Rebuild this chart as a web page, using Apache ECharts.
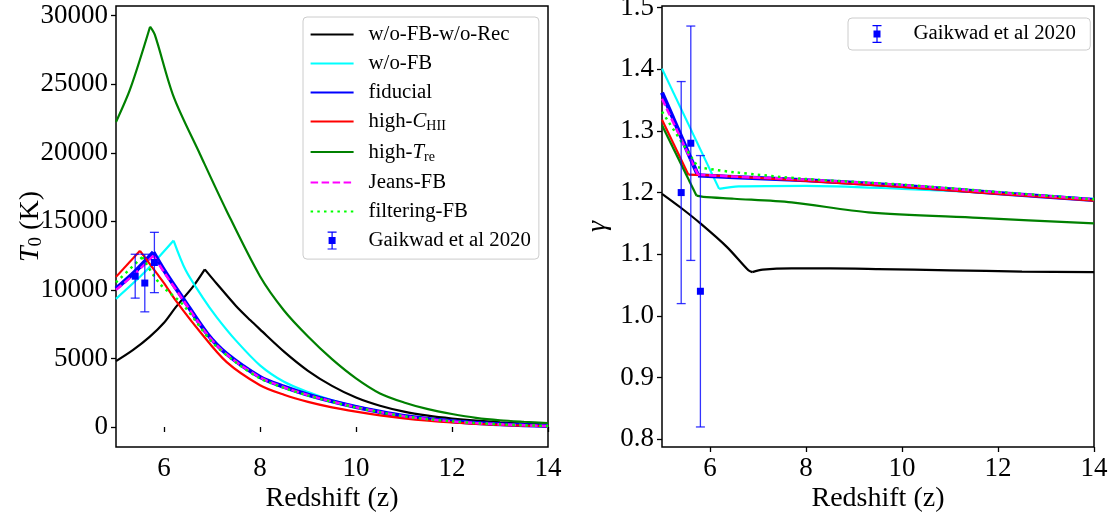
<!DOCTYPE html>
<html><head><meta charset="utf-8">
<script src="https://cdn.jsdelivr.net/npm/echarts@6/dist/echarts.min.js"></script>
<style>html,body{margin:0;padding:0;background:#fff}#c{width:1111px;height:514px}</style>
</head><body><div id="c"></div>
<script>
// ---------- Left panel: T0 (K) vs redshift ----------
const zBlack = [5, 5.35, 5.7, 6, 6.25, 6.6, 6.85, 7.1, 7.5, 7.8, 8, 8.5, 9, 9.5, 10, 10.5, 11, 11.5, 12, 12.5, 13, 13.5, 14];
const tBlack = [4800, 5600, 6570, 7600, 8760, 10220, 11500, 10450, 8830, 7780, 7120, 5500, 4100, 3000, 2150, 1550, 1120, 830, 620, 460, 340, 250, 180];
const zCyan = [5, 5.6, 6.2, 6.45, 6.8, 7.1, 7.5, 8, 8.5, 9, 9.5, 10, 10.5, 11, 11.5, 12, 12.5, 13, 13.5, 14];
const tCyan = [9350, 11300, 13600, 11450, 9480, 8000, 6300, 4500, 3300, 2550, 1950, 1500, 1130, 820, 600, 440, 310, 210, 140, 90];
const zFid = [5, 5.4, 5.78, 6, 6.4, 6.9, 7.3, 8, 8.5, 9, 9.5, 10, 10.5, 11, 11.5, 12, 12.5, 13, 13.5, 14];
const tFid = [10100, 11350, 12750, 11450, 9350, 6800, 5350, 3650, 2930, 2350, 1880, 1460, 1100, 790, 580, 420, 290, 200, 130, 80];
const zRed = [5, 5.5, 5.85, 6, 6.25, 6.75, 7.3, 8, 8.5, 9, 9.5, 10, 10.5, 11, 11.5, 12, 12.5, 13, 13.5, 14];
const tRed = [10950, 12850, 11200, 10500, 9200, 6950, 4750, 3050, 2350, 1830, 1430, 1120, 850, 630, 460, 330, 230, 150, 95, 55];
const zGreen = [5, 5.3, 5.71, 5.81, 6.2, 6.75, 7.3, 8, 8.5, 9, 9.5, 10, 10.5, 11, 11.5, 12, 12.5, 13, 13.5, 14];
const tGreen = [22250, 24700, 29200, 28600, 24100, 19900, 15800, 11000, 8500, 6600, 4950, 3550, 2450, 1790, 1300, 950, 670, 490, 380, 290];
const zJeans = [5, 5.4, 5.78, 6, 6.4, 6.9, 7.3, 8, 8.5, 9, 9.5, 10, 10.5, 11, 11.5, 12, 12.5, 13, 13.5, 14];
const tJeans = [10000, 11200, 12500, 11300, 9250, 6750, 5300, 3620, 2900, 2330, 1860, 1445, 1090, 785, 575, 415, 288, 198, 128, 78];
const zFilt = [5, 5.55, 5.9, 6.4, 7, 7.5, 8, 8.5, 9, 9.5, 10, 10.5, 11, 11.5, 12, 12.5, 13, 13.5, 14];
const tFilt = [10550, 12400, 10500, 8900, 6200, 4700, 3550, 2850, 2300, 1840, 1430, 1080, 780, 570, 410, 285, 195, 125, 75];

// ---------- Right panel: gamma vs redshift ----------
const zgBlack = [5, 5.4, 5.8, 6.35, 6.8, 6.88, 7.1, 7.7, 8.5, 9.5, 11, 12.5, 14];
const gBlack = [1.198, 1.175, 1.150, 1.112, 1.074, 1.071, 1.075, 1.077, 1.077, 1.076, 1.074, 1.072, 1.071];
const zgCyan = [5, 6.19, 6.6, 8, 10, 12, 14];
const gCyan = [1.401, 1.206, 1.210, 1.211, 1.206, 1.199, 1.190];
const zgFid = [5, 5.75, 6.5, 8, 10, 12, 14];
const gFid = [1.362, 1.228, 1.225, 1.220, 1.211, 1.199, 1.188];
const zgRed = [5, 5.55, 6.5, 8, 10, 12, 14];
const gRed = [1.318, 1.229, 1.226, 1.219, 1.209, 1.198, 1.187];
const zgGreen = [5, 5.72, 5.86, 6.5, 7.7, 9.3, 11.6, 14];
const gGreen = [1.309, 1.195, 1.193, 1.190, 1.184, 1.168, 1.159, 1.150];
const zgJeans = [5, 5.75, 6.5, 8, 10, 12, 14];
const gJeans = [1.352, 1.229, 1.226, 1.221, 1.212, 1.200, 1.189];
const zgFilt = [5, 5.75, 6.5, 8, 10, 12, 14];
const gFilt = [1.331, 1.241, 1.233, 1.222, 1.213, 1.201, 1.189];

// ---------- Gaikwad et al 2020 observations ----------
const zObs = [5.4, 5.6, 5.8];
const tObs = [11000, 10500, 12000];
const tObsErr = [1600, 2100, 2200];
const gObs = [1.20, 1.28, 1.04];
const gObsErr = [0.18, 0.19, 0.22];

// ---------- Ticks ----------
const xTicks = [6, 8, 10, 12, 14];
const tTicks = [0, 5000, 10000, 15000, 20000, 25000, 30000];
const gTicks = [0.8, 0.9, 1.0, 1.1, 1.2, 1.3, 1.4, 1.5];

const FONT = '"Liberation Serif", "DejaVu Serif", serif';
const LFS = 20.8;
const pairs = (xs, ys) => xs.map((x, i) => [x, ys[i]]);
const errData = (xs, ys, es) => xs.map((x, i) => [x, ys[i], ys[i] - es[i], ys[i] + es[i]]);

const names = {
  black: 'w/o-FB-w/o-Rec', cyan: 'w/o-FB', fid: 'fiducial', red: 'high-C_HII',
  green: 'high-T_re', jeans: 'Jeans-FB', filt: 'filtering-FB', obs: 'Gaikwad et al 2020'
};
const legendLabel = {
  'high-C_HII': '{n|high-}{i|C}{sub|HII}',
  'high-T_re': '{n|high-}{i|T}{sub|re}'
};
const styles = {
  black: {color: '#000000', width: 2.2, type: 'solid'},
  cyan: {color: '#00ffff', width: 2.2, type: 'solid'},
  fid: {color: '#0000ff', width: 4.2, type: 'solid'},
  red: {color: '#ff0000', width: 2.2, type: 'solid'},
  green: {color: '#008000', width: 2.2, type: 'solid'},
  jeans: {color: '#ff00ff', width: 2.5, type: [7.5, 3.5]},
  filt: {color: '#00ff00', width: 2.5, type: [2.5, 4.2]}
};

// a curve is drawn as two smoothed pieces joined at its kink (index k)
function lineSeries(key, xs, ys, idx, z, k) {
  const s = styles[key];
  const all = pairs(xs, ys);
  const base = {
    type: 'line', name: names[key], xAxisIndex: idx, yAxisIndex: idx,
    showSymbol: false, symbol: 'none', smooth: 0.3,
    lineStyle: {color: s.color, width: s.width, type: s.type, cap: 'butt'},
    itemStyle: {color: s.color}, z: z, animation: false, emphasis: {disabled: true}
  };
  return [
    Object.assign({}, base, {data: all.slice(0, k + 1)}),
    Object.assign({}, base, {data: all.slice(k)})
  ];
}

function errRender(params, api) {
  const x = api.value(0), y = api.value(1), lo = api.value(2), hi = api.value(3);
  const c = api.coord([x, y]), a = api.coord([x, lo]), b = api.coord([x, hi]);
  const cap = 4.5, s = 3.5;
  const ls = {stroke: '#0000ff', lineWidth: 1.3, opacity: 0.8};
  return {type: 'group', children: [
    {type: 'line', shape: {x1: c[0], y1: a[1], x2: c[0], y2: b[1]}, style: ls},
    {type: 'line', shape: {x1: c[0] - cap, y1: a[1], x2: c[0] + cap, y2: a[1]}, style: ls},
    {type: 'line', shape: {x1: c[0] - cap, y1: b[1], x2: c[0] + cap, y2: b[1]}, style: ls},
    {type: 'rect', shape: {x: c[0] - s, y: c[1] - s, width: 2 * s, height: 2 * s}, style: {fill: '#0000ff'}}
  ]};
}
function errSeries(data, idx) {
  return {
    type: 'custom', name: names.obs, xAxisIndex: idx, yAxisIndex: idx,
    coordinateSystem: 'cartesian2d', renderItem: errRender, data: data,
    encode: {x: 0, y: [1, 2, 3]}, itemStyle: {color: '#0000ff'}, z: 20, animation: false
  };
}

const obsIcon = 'path://M0,8.99 L0.01,8.99 L0.01,9.01 Z M43,8.99 L42.99,8.99 L42.99,9.01 Z ' +
  'M17,0 L26,0 L26,1.2 L22.1,1.2 L22.1,5.5 L25,5.5 L25,12.5 L22.1,12.5 L22.1,16.8 L26,16.8 L26,18 L17,18 L17,16.8 L20.9,16.8 L20.9,12.5 L18,12.5 L18,5.5 L20.9,5.5 L20.9,1.2 L17,1.2 Z';
const obsLegendItem = {name: names.obs, icon: obsIcon, itemStyle: {opacity: 1, color: '#0000ff'}};

const richLegend = {
  n: {fontFamily: FONT, fontSize: LFS, color: '#000', lineHeight: 24},
  i: {fontFamily: FONT, fontSize: LFS, fontStyle: 'italic', color: '#000', lineHeight: 24},
  sub: {fontFamily: FONT, fontSize: 14, color: '#000', lineHeight: 24, verticalAlign: 'bottom'}
};
function legendBase(extra) {
  return Object.assign({
    orient: 'vertical', itemWidth: 43, itemHeight: 18, itemGap: 8.0,
    borderColor: '#cccccc', borderWidth: 1, borderRadius: 4, backgroundColor: '#ffffff',
    symbolKeepAspect: true, selectedMode: false,
    itemStyle: {opacity: 0},
    textStyle: {fontFamily: FONT, fontSize: LFS, color: '#000', padding: [0, 0, 0, 10], rich: richLegend},
    formatter: name => legendLabel[name] || ('{n|' + name + '}')
  }, extra);
}

function xAxisCfg(idx) {
  return {
    type: 'value', gridIndex: idx, min: 5, max: 14,
    name: 'Redshift (z)', nameLocation: 'middle', nameGap: 38, nameMoveOverlap: false,
    nameTextStyle: {fontFamily: FONT, fontSize: 28, color: '#000'},
    axisLine: {show: false},
    axisTick: {show: true, inside: false, length: 5, lineStyle: {color: '#000', width: 1.3}, customValues: xTicks},
    axisLabel: {show: true, margin: 8, fontFamily: FONT, fontSize: 27, color: '#000', customValues: xTicks,
      formatter: v => String(v)},
    splitLine: {show: false}
  };
}

const option = {
  backgroundColor: '#ffffff',
  animation: false,
  grid: [
    {left: 116, top: 6, width: 432, height: 441, show: true, borderColor: '#000', borderWidth: 1.5, backgroundColor: 'transparent', containLabel: false, outerBoundsMode: 'none'},
    {left: 662, top: 6, width: 432, height: 441, show: true, borderColor: '#000', borderWidth: 1.5, backgroundColor: 'transparent', containLabel: false, outerBoundsMode: 'none'}
  ],
  xAxis: [xAxisCfg(0), xAxisCfg(1)],
  yAxis: [
    {
      type: 'value', gridIndex: 0, min: -1460, max: 30710,
      name: '{i|T}{sub|0}{n| (K)}', nameLocation: 'middle', nameGap: 70, nameRotate: 90, nameMoveOverlap: false,
      nameTextStyle: {fontFamily: FONT, fontSize: 28, color: '#000', rich: {
        n: {fontFamily: FONT, fontSize: 28, color: '#000', lineHeight: 30},
        i: {fontFamily: FONT, fontSize: 28, fontStyle: 'italic', color: '#000', lineHeight: 30},
        sub: {fontFamily: FONT, fontSize: 19, color: '#000', lineHeight: 14, verticalAlign: 'bottom'}
      }},
      axisLine: {show: false},
      axisTick: {show: true, length: 5, lineStyle: {color: '#000', width: 1.3}, customValues: tTicks},
      axisLabel: {show: true, margin: 8, fontFamily: FONT, fontSize: 27, color: '#000', customValues: tTicks,
        formatter: v => String(Math.round(v))},
      splitLine: {show: false}
    },
    {
      type: 'value', gridIndex: 1, min: 0.7875, max: 1.5025,
      name: 'γ', nameLocation: 'middle', nameGap: 50, nameRotate: 90, nameMoveOverlap: false,
      nameTextStyle: {fontFamily: FONT, fontSize: 28, fontStyle: 'italic', color: '#000'},
      axisLine: {show: false},
      axisTick: {show: true, length: 5, lineStyle: {color: '#000', width: 1.3}, customValues: gTicks},
      axisLabel: {show: true, margin: 8, fontFamily: FONT, fontSize: 27, color: '#000', customValues: gTicks,
        formatter: v => v.toFixed(1)},
      splitLine: {show: false}
    }
  ],
  legend: [
    legendBase({left: 303, top: 17, padding: [7.1, 8, 8, 6.6],
      data: [names.black, names.cyan, names.fid, names.red, names.green, names.jeans, names.filt, obsLegendItem]}),
    legendBase({left: 848, top: 18, padding: [5.5, 14.5, 5.5, 7.5],
      data: [obsLegendItem]})
  ],
  series: [].concat(
    lineSeries('black', zBlack, tBlack, 0, 2, 6),
    lineSeries('cyan', zCyan, tCyan, 0, 3, 2),
    lineSeries('fid', zFid, tFid, 0, 4, 2),
    lineSeries('red', zRed, tRed, 0, 5, 1),
    lineSeries('green', zGreen, tGreen, 0, 6, 2),
    lineSeries('jeans', zJeans, tJeans, 0, 7, 2),
    lineSeries('filt', zFilt, tFilt, 0, 8, 1),
    [errSeries(errData(zObs, tObs, tObsErr), 0)],
    lineSeries('black', zgBlack, gBlack, 1, 2, 5),
    lineSeries('cyan', zgCyan, gCyan, 1, 3, 1),
    lineSeries('fid', zgFid, gFid, 1, 4, 1),
    lineSeries('red', zgRed, gRed, 1, 5, 1),
    lineSeries('green', zgGreen, gGreen, 1, 6, 1),
    lineSeries('jeans', zgJeans, gJeans, 1, 7, 1),
    lineSeries('filt', zgFilt, gFilt, 1, 8, 1),
    [errSeries(errData(zObs, gObs, gObsErr), 1)]
  )
};

const chart = echarts.init(document.getElementById('c'), null, {renderer: 'canvas'});
chart.setOption(option);
</script>
</body></html>
